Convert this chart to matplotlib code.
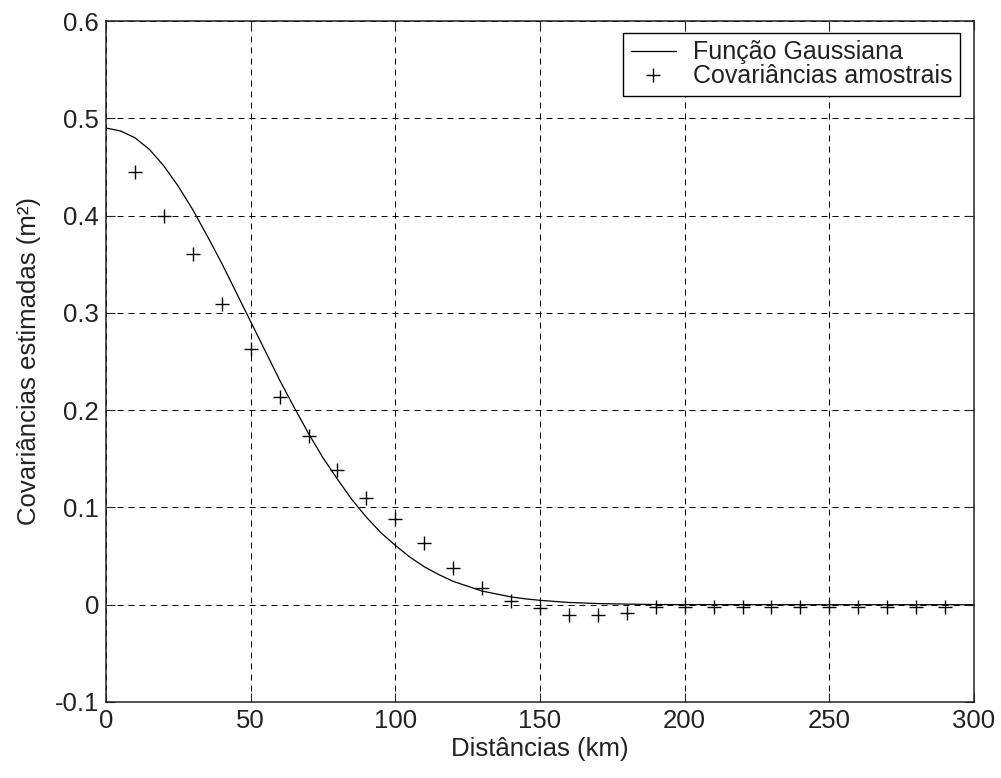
import matplotlib
matplotlib.use("Agg")
import matplotlib.pyplot as plt

plt.rcParams['font.family'] = ['Liberation Sans', 'DejaVu Sans']
plt.rcParams['axes.unicode_minus'] = False

dist_curva = [0, 5, 10, 15, 20, 25, 30, 35, 40, 45, 50, 55, 60, 65, 70, 75,
              80, 85, 90, 95, 100, 105, 110, 115, 120, 125, 130, 135, 140,
              145, 150, 160, 170, 180, 190, 200, 250, 300]
cov_curva = [0.490, 0.487, 0.480, 0.468, 0.451, 0.430, 0.406, 0.379, 0.351,
             0.321, 0.291, 0.261, 0.231, 0.203, 0.176, 0.151, 0.129, 0.108,
             0.090, 0.074, 0.061, 0.049, 0.039, 0.031, 0.024, 0.019, 0.014,
             0.011, 0.008, 0.006, 0.0045, 0.0023, 0.0012, 0.0006, 0.0002,
             0.0001, 0.0, 0.0]

# covariâncias amostrais
dist_amostra = [10, 20, 30, 40, 50, 60, 70, 80, 90, 100, 110, 120, 130, 140,
                150, 160, 170, 180, 190, 200, 210, 220, 230, 240, 250, 260,
                270, 280, 290]
cov_amostra = [0.445, 0.400, 0.361, 0.309, 0.263, 0.214, 0.173, 0.138, 0.110,
               0.088, 0.063, 0.038, 0.017, 0.004, -0.003, -0.011, -0.011,
               -0.009, -0.002, -0.002, -0.002, -0.002, -0.002, -0.002, -0.002,
               -0.002, -0.002, -0.002, -0.002]

xticks = [0, 50, 100, 150, 200, 250, 300]
yticks = [-0.1, 0, 0.1, 0.2, 0.3, 0.4, 0.5, 0.6]
ylabels = ['-0.1', '0', '0.1', '0.2', '0.3', '0.4', '0.5', '0.6']

fs = 18.5

fig = plt.figure(figsize=(10.01, 7.78), dpi=100)
ax = fig.add_axes([0.1059, 0.0977, 0.8671, 0.8753])

ax.plot(dist_curva, cov_curva, color='black', lw=0.9, label='Função Gaussiana')
ax.plot(dist_amostra, cov_amostra, linestyle='none', marker='+', ms=9.5,
        mew=1.0, color='black', label='Covariâncias amostrais')

ax.set_xlim(0, 300)
ax.set_ylim(-0.1, 0.6)
ax.set_xticks(xticks)
ax.set_xticklabels([str(t) for t in xticks])
ax.set_yticks(yticks)
ax.set_yticklabels(ylabels)
ax.grid(True, color='black', lw=0.72, linestyle=(0, (6, 5)))

ax.tick_params(direction='in', length=6.5, width=0.8, top=True, right=True,
               labelsize=fs, pad=5, colors='#222222')
for s in ax.spines.values():
    s.set_linewidth(1.1)
    s.set_color('#222222')

ax.set_xlabel('Distâncias (km)', fontsize=fs, labelpad=3, color='#222222')
ax.set_ylabel('Covariâncias estimadas (m²)', fontsize=fs, labelpad=10,
              color='#222222')

leg = ax.legend(loc='upper right', bbox_to_anchor=(0.984, 0.9824),
                borderaxespad=0, fancybox=False, framealpha=1,
                edgecolor='black', fontsize=18, handlelength=1.8,
                handletextpad=0.7, labelspacing=0.0, borderpad=0.3)
leg.get_frame().set_linewidth(1.0)
for t in leg.get_texts():
    t.set_color('#222222')

fig.savefig('out.png', dpi=100)
